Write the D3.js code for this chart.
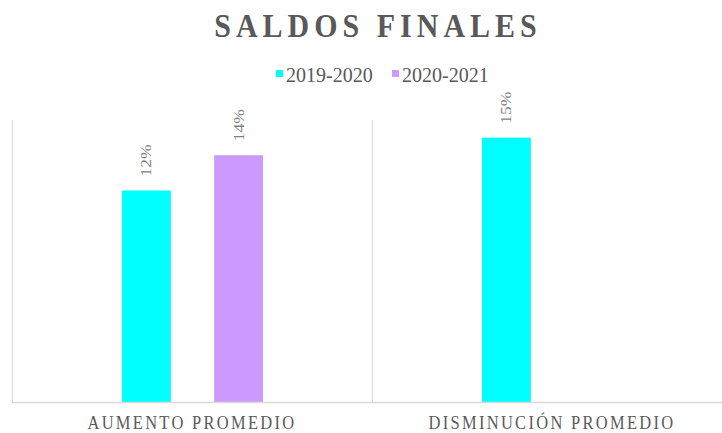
<!DOCTYPE html>
<html>
<head>
<meta charset="utf-8">
<script src="https://cdn.jsdelivr.net/npm/d3@7"></script>
<style>
  body { margin: 0; background: #fff; }
  svg text { font-family: "Liberation Serif", "Times New Roman", Times, "DejaVu Serif", serif; }
</style>
</head>
<body>
<div id="chart"></div>
<script>
// Saldos finales - data
var categories = ["AUMENTO PROMEDIO", "DISMINUCIÓN PROMEDIO"];
var seriesNames = ["2019-2020", "2020-2021"];
var values2019 = [0.12, 0.15];
var values2020 = [0.14, null];
var colors = ["#00ffff", "#cc99ff"];

var width = 722;
var height = 433;
var left = 12;
var plotTop = 120;
var baseline = 402;
var serif = "'Liberation Serif', 'Times New Roman', Times, 'DejaVu Serif', serif";

var svg = d3.select("#chart")
  .append("svg")
  .attr("width", width)
  .attr("height", height)
  .attr("font-family", serif);

// Scales
var xScale = d3.scaleBand()
  .domain(categories)
  .range([left, left + 720]);

// bars sit inside each category band
var xInner = d3.scaleBand()
  .domain(seriesNames)
  .range([110, 251])
  .paddingInner(0.47)
  .paddingOuter(0);

var yScale = d3.scaleLinear()
  .domain([0, 0.16])
  .range([baseline, plotTop]);

// Title
svg.append("text")
  .attr("transform", "translate(378,37) scale(1,1.15)")
  .attr("text-anchor", "middle")
  .attr("font-family", serif)
  .attr("font-size", 30)
  .attr("font-weight", "bold")
  .attr("letter-spacing", 5)
  .attr("fill", "#595959")
  .text("SALDOS FINALES");

// Legend
var legend = svg.append("g").attr("class", "legend");
var legendX = [276, 392];
seriesNames.forEach(function(name, i) {
  legend.append("rect")
    .attr("x", legendX[i])
    .attr("y", 70)
    .attr("width", 7)
    .attr("height", 7)
    .attr("fill", colors[i]);
  legend.append("text")
    .attr("x", legendX[i] + 10)
    .attr("y", 82)
    .attr("font-family", serif)
    .attr("font-size", 20)
    .attr("fill", "#595959")
    .text(name);
});

// Category dividers
svg.selectAll("line.divider")
  .data(categories)
  .enter()
  .append("line")
  .attr("class", "divider")
  .attr("x1", function(d) { return xScale(d) + 0.5; })
  .attr("x2", function(d) { return xScale(d) + 0.5; })
  .attr("y1", plotTop)
  .attr("y2", baseline)
  .attr("stroke", "#d9d9d9")
  .attr("stroke-width", 1);

// Bars
var rows = [];
categories.forEach(function(c, i) {
  rows.push({ cat: c, series: seriesNames[0], value: values2019[i], color: colors[0] });
  rows.push({ cat: c, series: seriesNames[1], value: values2020[i], color: colors[1] });
});
rows = rows.filter(function(d) { return d.value != null; });

svg.selectAll("rect.bar")
  .data(rows)
  .enter()
  .append("rect")
  .attr("class", "bar")
  .attr("x", function(d) { return xScale(d.cat) + xInner(d.series); })
  .attr("y", function(d) { return yScale(d.value); })
  .attr("width", xInner.bandwidth())
  .attr("height", function(d) { return baseline - yScale(d.value); })
  .attr("fill", function(d) { return d.color; });

// Data labels (rotated, a bit stretched like the original)
svg.selectAll("text.label")
  .data(rows)
  .enter()
  .append("text")
  .attr("class", "label")
  .attr("transform", function(d) {
    var cx = xScale(d.cat) + xInner(d.series) + xInner.bandwidth() / 2 + 5;
    var cy = yScale(d.value) - 14;
    return "translate(" + cx + "," + cy + ")rotate(-90)scale(1.25,1)";
  })
  .attr("font-family", serif)
  .attr("font-size", 14)
  .attr("fill", "#7f7f7f")
  .text(function(d) { return Math.round(d.value * 100) + "%"; });

// Baseline axis
svg.append("line")
  .attr("x1", left)
  .attr("x2", width)
  .attr("y1", baseline + 0.5)
  .attr("y2", baseline + 0.5)
  .attr("stroke", "#d9d9d9")
  .attr("stroke-width", 1.5);

// Category labels
svg.selectAll("text.cat")
  .data(categories)
  .enter()
  .append("text")
  .attr("class", "cat")
  .attr("transform", function(d) {
    return "translate(" + (xScale(d) + xScale.bandwidth() / 2) + ",429) scale(1,1.12)";
  })
  .attr("text-anchor", "middle")
  .attr("font-family", serif)
  .attr("font-size", 16.5)
  .attr("letter-spacing", 2.3)
  .attr("fill", "#595959")
  .text(function(d) { return d; });
</script>
</body>
</html>
